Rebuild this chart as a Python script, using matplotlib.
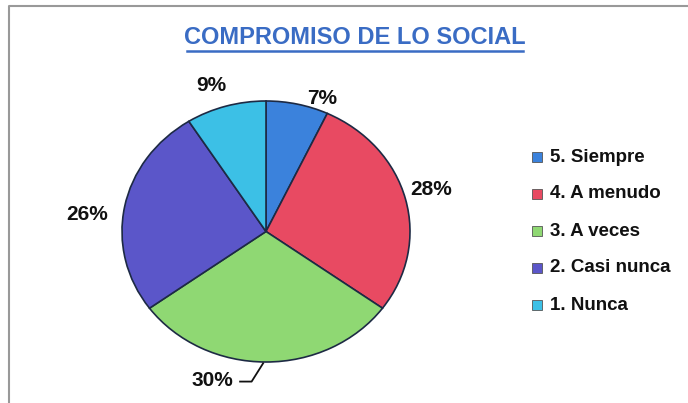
import matplotlib.pyplot as plt
from matplotlib.lines import Line2D
from matplotlib.patches import Rectangle

plt.rcParams['font.family'] = ['Liberation Sans', 'DejaVu Sans']

# datos
categorias = ["5. Siempre", "4. A menudo", "3. A veces", "2. Casi nunca", "1. Nunca"]
porcentajes = [7, 28, 30, 26, 9]
colores = ["#3b82dc", "#e84a62", "#8fd873", "#5b56c9", "#3cc0e6"]
titulo = "COMPROMISO DE LO SOCIAL"

# posicion de cada etiqueta (coordenadas del eje del pastel)
pos_etiquetas = [(0.39, 1.02), (1.15, 0.32), (-0.37, -1.14), (-1.24, 0.13), (-0.38, 1.12)]

fig = plt.figure(figsize=(6.88, 4.03), dpi=100)
W, H = 688, 403
# pastel un poco achatado, como en el original
cx, cy, rx, ry = 266, 231.5, 144, 130.5
ax = fig.add_axes([(cx - rx) / W, (H - cy - ry) / H, 2 * rx / W, 2 * ry / H])

wedges, _ = ax.pie(porcentajes, colors=colores, startangle=90, counterclock=False,
                   radius=1, wedgeprops=dict(edgecolor="#1d2a44", linewidth=1.2))
ax.set_xlim(-1, 1)
ax.set_ylim(-1, 1)
ax.set_aspect("auto")
ax.axis("off")

for p, (x, y) in zip(porcentajes, pos_etiquetas):
    ax.text(x, y, f"{p}%", ha="center", va="center", fontsize=15,
            fontweight="bold", color="#111111", clip_on=False)

# linea guia del 30%
ax.add_line(Line2D([-0.18, -0.10, -0.02], [-1.15, -1.15, -1.01],
                   color="#111111", lw=1.3, clip_on=False))

# titulo subrayado
fig.text(355 / W, 1 - 38 / H, titulo, ha="center", va="center",
         fontsize=17, fontweight="bold", color="#3a6cc4")
fig.add_artist(Line2D([187 / W, 523 / W], [1 - 51 / H, 1 - 51 / H],
                      color="#3a6cc4", lw=1.8))

# leyenda
for i, (cat, col) in enumerate(zip(categorias, colores)):
    y = 1 - (157 + 37 * i) / H
    fig.add_artist(Rectangle((532 / W, y - 5 / H), 10 / W, 10 / H,
                             facecolor=col, edgecolor="#555555", lw=0.6))
    fig.text(550 / W, y, cat, ha="left", va="center", fontsize=13.5,
             fontweight="bold", color="#111111")

# borde del grafico
fig.add_artist(Line2D([9 / W, 9 / W, 700 / W], [0, 1 - 6 / H, 1 - 6 / H],
                      color="#999999", lw=1.5))

fig.savefig("out.png", dpi=100)
